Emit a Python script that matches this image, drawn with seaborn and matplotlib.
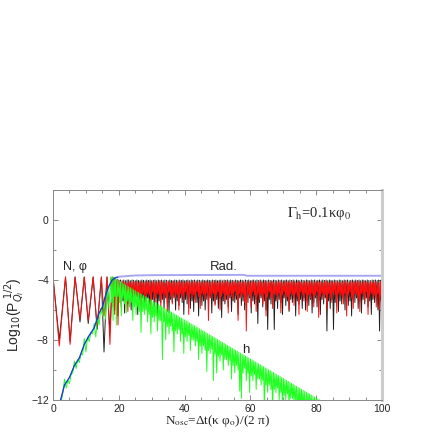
import numpy as np
import pandas as pd
import seaborn as sns
import matplotlib.pyplot as plt

sns.set_style('ticks')
plt.rcParams['font.family'] = ['Liberation Sans', 'DejaVu Sans']

# --- N, phi : first oscillations (peaks and dips) ---
early_x = [0, 1.9, 3.8, 5.2, 6.7, 8.2, 9.5, 10.7, 12.2, 13.4, 14.7, 15.5, 16.4, 17.3]
red_early = [-3.8, -8.4, -3.8, -8.3, -3.8, -6.6, -3.8, -6.7, -3.8, -7.1, -3.8, -6.4, -3.8, -8.3]
black_early = [-3.8, -8.0, -3.8, -8.1, -3.8, -6.8, -3.8, -6.9, -3.8, -7.3, -3.8, -8.8, -3.8, -7.5]

# --- N, phi : dense band, tops at x = 18, 18.5, .. 100 ; troughs a quarter step later ---
red_top = [-3.85, -3.9, -3.95, -4.0, -4.05, -4.1, -4.15, -4.1, -4.15, -4.2,
           -4.1, -4.15, -4.2, -4.1, -4.15, -4.12, -4.2, -4.1, -4.15, -4.18,
           -4.15, -4.1, -4.18, -4.12, -4.2, -4.1, -4.15, -4.12, -4.18, -4.1,
           -4.1, -4.15, -4.2, -4.1, -4.15, -4.12, -4.2, -4.1, -4.15, -4.18,
           -4.15, -4.1, -4.18, -4.12, -4.2, -4.1, -4.15, -4.12, -4.18, -4.1,
           -4.1, -4.15, -4.2, -4.1, -4.15, -4.12, -4.2, -4.1, -4.15, -4.18,
           -4.15, -4.1, -4.18, -4.12, -4.2, -4.1, -4.15, -4.12, -4.18, -4.1,
           -4.1, -4.15, -4.2, -4.1, -4.15, -4.12, -4.2, -4.1, -4.15, -4.18,
           -4.15, -4.1, -4.18, -4.12, -4.2, -4.1, -4.15, -4.12, -4.18, -4.1,
           -4.1, -4.15, -4.2, -4.1, -4.15, -4.12, -4.2, -4.1, -4.15, -4.18,
           -4.15, -4.1, -4.18, -4.12, -4.2, -4.1, -4.15, -4.12, -4.18, -4.1,
           -4.1, -4.15, -4.2, -4.1, -4.15, -4.12, -4.2, -4.1, -4.15, -4.18,
           -4.15, -4.1, -4.18, -4.12, -4.2, -4.1, -4.15, -4.12, -4.18, -4.1,
           -4.1, -4.15, -4.2, -4.1, -4.15, -4.12, -4.2, -4.1, -4.15, -4.18,
           -4.15, -4.1, -4.18, -4.12, -4.2, -4.1, -4.15, -4.12, -4.18, -4.1,
           -4.1, -4.15, -4.2, -4.1, -4.15, -4.12, -4.2, -4.1, -4.15, -4.18,
           -4.1, -4.15, -4.2, -4.1, -4.15]
red_low = [-5.8, -6.3, -5.2, -7.0, -5.0, -5.6, -4.9, -5.4, -5.1, -6.1,
           -4.9, -5.2, -5.0, -5.7, -4.8, -5.3, -5.0, -6.0, -4.9, -5.1,
           -5.4, -4.9, -5.0, -6.2, -4.8, -5.2, -5.5, -4.9, -5.0, -5.8,
           -4.9, -5.3, -5.0, -6.1, -4.8, -5.1, -5.6, -4.9, -5.2, -5.0,
           -6.0, -4.9, -5.1, -5.4, -4.8, -5.0, -6.3, -4.9, -5.2, -5.0,
           -5.5, -4.8, -5.1, -5.9, -4.9, -5.0, -5.3, -4.9, -6.7, -5.0,
           -5.2, -4.9, -5.7, -5.0, -4.8, -6.0, -5.1, -4.9, -5.4, -5.0,
           -6.2, -4.9, -5.1, -5.3, -4.8, -5.0, -6.7, -4.9, -5.2, -5.0,
           -5.5, -7.4, -4.9, -5.1, -5.8, -4.8, -5.0, -6.1, -4.9, -5.3,
           -5.0, -5.6, -4.9, -6.4, -5.1, -4.8, -5.2, -5.9, -4.9, -5.0,
           -5.4, -4.9, -6.2, -5.0, -4.8, -5.3, -5.1, -6.0, -4.9, -5.0,
           -5.7, -4.9, -5.1, -6.3, -4.8, -5.0, -5.4, -4.9, -6.1, -5.0,
           -5.2, -4.9, -5.8, -5.0, -4.8, -6.5, -5.1, -4.9, -5.3, -5.0,
           -6.0, -4.9, -5.2, -5.5, -4.8, -5.0, -6.2, -4.9, -5.1, -5.0,
           -5.6, -4.9, -6.4, -5.0, -4.8, -5.2, -5.9, -4.9, -5.0, -5.3,
           -6.1, -4.9, -5.0, -5.4, -4.8, -6.3, -5.1, -4.9, -5.2, -5.0,
           -5.8, -4.9, -6.0, -5.1, -5.0]
black_top = [-3.8, -3.85, -3.9, -3.95, -4.0, -4.0, -4.05, -4.0, -4.05, -4.0,
             -4.0, -4.05, -4.0, -4.02, -4.05, -4.0, -4.03, -4.05, -4.0, -4.02,
             -4.05, -4.0, -4.03, -4.0, -4.05, -4.02, -4.0, -4.05, -4.0, -4.03,
             -4.0, -4.05, -4.0, -4.02, -4.05, -4.0, -4.03, -4.05, -4.0, -4.02,
             -4.05, -4.0, -4.03, -4.0, -4.05, -4.02, -4.0, -4.05, -4.0, -4.03,
             -4.0, -4.05, -4.0, -4.02, -4.05, -4.0, -4.03, -4.05, -4.0, -4.02,
             -4.05, -4.0, -4.03, -4.0, -4.05, -4.02, -4.0, -4.05, -4.0, -4.03,
             -4.0, -4.05, -4.0, -4.02, -4.05, -4.0, -4.03, -4.05, -4.0, -4.02,
             -4.05, -4.0, -4.03, -4.0, -4.05, -4.02, -4.0, -4.05, -4.0, -4.03,
             -4.0, -4.05, -4.0, -4.02, -4.05, -4.0, -4.03, -4.05, -4.0, -4.02,
             -4.05, -4.0, -4.03, -4.0, -4.05, -4.02, -4.0, -4.05, -4.0, -4.03,
             -4.0, -4.05, -4.0, -4.02, -4.05, -4.0, -4.03, -4.05, -4.0, -4.02,
             -4.05, -4.0, -4.03, -4.0, -4.05, -4.02, -4.0, -4.05, -4.0, -4.03,
             -4.0, -4.05, -4.0, -4.02, -4.05, -4.0, -4.03, -4.05, -4.0, -4.02,
             -4.05, -4.0, -4.03, -4.0, -4.05, -4.02, -4.0, -4.05, -4.0, -4.03,
             -4.0, -4.05, -4.0, -4.02, -4.05, -4.0, -4.03, -4.05, -4.0, -4.02,
             -4.0, -4.05, -4.0, -4.02, -4.05]
black_low = [-5.5, -6.0, -5.3, -6.4, -5.2, -5.8, -5.4, -6.2, -5.3, -5.6,
             -5.2, -6.0, -5.4, -5.5, -5.1, -6.3, -5.3, -5.7, -5.2, -5.9,
             -5.6, -5.2, -6.1, -5.4, -5.3, -5.8, -5.2, -6.4, -5.4, -5.5,
             -5.3, -5.9, -5.2, -5.6, -6.2, -5.3, -5.5, -5.2, -6.0, -5.4,
             -5.7, -5.2, -5.5, -6.3, -5.3, -5.6, -5.2, -5.9, -5.4, -6.1,
             -5.3, -5.5, -6.4, -5.2, -5.7, -5.4, -6.0, -5.3, -5.5, -5.2,
             -6.2, -5.4, -5.6, -5.3, -5.9, -5.2, -6.5, -5.4, -5.6, -5.3,
             -5.8, -5.2, -6.1, -5.4, -5.5, -5.3, -6.3, -5.2, -5.7, -5.4,
             -6.0, -5.3, -5.5, -5.2, -6.2, -5.4, -5.6, -5.3, -6.9, -5.5,
             -5.2, -5.8, -5.4, -6.0, -7.3, -5.3, -5.6, -5.2, -7.3, -5.4,
             -5.9, -5.3, -5.5, -6.3, -5.2, -5.7, -5.4, -6.1, -5.3, -5.5,
             -5.2, -6.4, -5.4, -5.6, -5.3, -5.9, -5.2, -6.0, -5.4, -5.7,
             -5.3, -6.2, -5.5, -5.2, -5.8, -5.4, -6.3, -5.3, -5.6, -5.2,
             -7.4, -5.4, -5.9, -5.3, -7.3, -5.5, -5.2, -6.1, -5.4, -5.6,
             -5.3, -6.0, -5.2, -5.7, -5.4, -6.4, -5.3, -5.5, -5.2, -5.9,
             -5.4, -6.2, -5.3, -5.6, -5.2, -5.8, -5.4, -6.3, -5.3, -5.5,
             -5.2, -6.0, -7.4, -5.4, -5.6]

# --- h : growth phase (x = 2.5 .. 17 every 0.5) ---
green_rise = [-12.1, -11.5, -10.6, -11.2, -10.7, -10.9, -10.3, -10.2, -9.4, -9.9,
              -9.3, -9.5, -8.9, -9.0, -7.9, -8.8, -7.8, -8.1, -7.5, -7.6,
              -6.9, -7.8, -6.5, -7.0, -5.9, -6.4, -5.2, -6.6, -4.6, -5.9]
# --- h : decay, tops at x = 17.5 .. 81.5 ; troughs a quarter step later ---
green_top = [-3.8, -3.8, -3.82, -3.9, -3.98, -4.06, -4.12, -4.19, -4.26, -4.32,
             -4.39, -4.45, -4.52, -4.58, -4.65, -4.71, -4.78, -4.84, -4.91, -4.97,
             -5.04, -5.1, -5.17, -5.23, -5.3, -5.36, -5.43, -5.49, -5.56, -5.62,
             -5.69, -5.75, -5.82, -5.88, -5.95, -6.01, -6.08, -6.14, -6.21, -6.27,
             -6.34, -6.4, -6.47, -6.53, -6.6, -6.66, -6.73, -6.79, -6.86, -6.92,
             -6.99, -7.05, -7.12, -7.18, -7.25, -7.31, -7.38, -7.44, -7.51, -7.57,
             -7.64, -7.7, -7.77, -7.83, -7.9, -7.96, -8.03, -8.09, -8.16, -8.22,
             -8.29, -8.35, -8.42, -8.48, -8.55, -8.61, -8.68, -8.74, -8.81, -8.87,
             -8.94, -9.0, -9.07, -9.13, -9.2, -9.26, -9.33, -9.39, -9.46, -9.52,
             -9.59, -9.65, -9.72, -9.78, -9.85, -9.91, -9.98, -10.04, -10.11, -10.17,
             -10.24, -10.3, -10.37, -10.43, -10.5, -10.56, -10.63, -10.69, -10.76, -10.82,
             -10.89, -10.95, -11.02, -11.08, -11.15, -11.21, -11.28, -11.34, -11.41, -11.47,
             -11.54, -11.6, -11.67, -11.73, -11.8, -11.86, -11.93, -11.99, -12.06]
green_low = [-5.5, -6.7, -5.1, -7.0, -5.1, -5.5, -6.4, -5.2, -5.6, -6.2,
             -5.4, -5.8, -5.5, -6.7, -5.8, -6.3, -5.8, -6.1, -7.5, -6.1,
             -6.3, -6.0, -6.8, -6.3, -7.6, -6.5, -6.8, -6.4, -7.4, -6.7,
             -6.7, -9.3, -6.8, -8.0, -7.1, -7.6, -7.1, -7.4, -8.8, -7.4,
             -7.6, -7.3, -8.1, -7.6, -8.9, -7.8, -8.1, -7.7, -8.7, -8.0,
             -8.0, -8.4, -8.1, -9.3, -8.4, -8.9, -8.4, -8.7, -10.1, -8.7,
             -8.9, -8.6, -10.7, -8.9, -10.2, -9.1, -9.4, -9.0, -10.0, -9.3,
             -9.3, -9.7, -9.4, -10.6, -9.7, -10.2, -9.7, -10.0, -11.4, -11.9,
             -10.2, -9.9, -10.7, -10.2, -11.5, -10.4, -10.7, -10.3, -11.3, -10.6,
             -10.6, -11.0, -10.7, -12.7, -11.0, -11.5, -11.0, -11.3, -12.7, -11.3,
             -11.5, -11.2, -12.0, -11.5, -12.8, -11.7, -12.0, -11.6, -12.6, -11.9,
             -11.9, -12.3, -12.0, -13.2, -12.3, -12.8, -12.3, -12.6, -14.0, -12.6,
             -12.8, -12.5, -13.3, -12.8, -14.1, -13.0, -13.3, -12.9, -13.9]

# --- Rad. ---
rad_x = [2.3, 3.5, 5, 6.5, 8, 9.5, 11, 12.5, 14, 15, 16, 17, 18, 19, 20]
rad_y = [-12, -11.0, -10.5, -9.7, -9.2, -8.3, -7.7, -7.2, -6.2, -5.8, -5.0, -4.4, -4.0, -3.85, -3.78]
rad2_x = [20, 25, 30, 40, 58, 59, 100]
rad2_y = [-3.78, -3.7, -3.68, -3.67, -3.66, -3.72, -3.72]


def zigzag(x0, tops, lows):
    # tops every 0.5, each followed by its trough 0.25 later
    y = np.ravel(np.column_stack([tops, lows]))
    x = x0 + 0.25 * np.arange(len(y))
    return x, y


bx, red_band = zigzag(18, red_top, red_low)
_, black_band = zigzag(18, black_top, black_low)
gx, green_band = zigzag(17.5, green_top, green_low)
rise_x = np.arange(2.5, 17.25, 0.5)

black = pd.DataFrame({'x': np.r_[early_x, bx], 'y': np.r_[black_early, black_band]})
red = pd.DataFrame({'x': np.r_[early_x, bx], 'y': np.r_[red_early, red_band]})
green = pd.DataFrame({'x': np.r_[rise_x, gx], 'y': np.r_[green_rise, green_band]})

fig = plt.figure(figsize=(4.36, 4.36), dpi=100)
ax = fig.add_axes([0.1216, 0.0826, 0.7546, 0.4817])

kw = dict(estimator=None, sort=False, ax=ax)
sns.lineplot(data=black, x='x', y='y', color='#222222', lw=0.7, **kw)
sns.lineplot(data=red, x='x', y='y', color='#ff1010', lw=0.7, **kw)
sns.lineplot(data=green, x='x', y='y', color='#22ff22', lw=0.7, **kw)
sns.lineplot(x=rad_x, y=rad_y, color='#1a3ad0', lw=1.0, **kw)
sns.lineplot(x=rad2_x, y=rad2_y, color='#a8a8f2', lw=1.4, **kw)

ax.set_xlim(0, 100)
ax.set_ylim(-12, 2)
ax.set_xticks([0, 20, 40, 60, 80, 100])
ax.set_xticks(np.arange(0, 101, 5), minor=True)
ax.set_yticks([-12, -8, -4, 0])
ax.set_yticks(np.arange(-12, 3, 2), minor=True)
ax.set_yticklabels(['\u221212', '\u22128', '\u22124', '0'])
ax.tick_params(which='both', direction='in', top=True, right=True,
               labelsize=7.5, color='#777777', width=0.6, pad=3)
ax.tick_params(which='major', length=3.5)
ax.tick_params(which='minor', length=2)
for s in ['left', 'top', 'bottom']:
    ax.spines[s].set_color('#888888')
    ax.spines[s].set_linewidth(0.7)
ax.spines['right'].set_color('#cccccc')
ax.spines['right'].set_linewidth(2.2)

ax.set_xlabel(r'N$_{\rm osc}$=Δt(κ φ$_{\rm o}$)/(2 π)', family='Liberation Serif',
              math_fontfamily='stix', fontsize=9.5, labelpad=-1)
ax.set_ylabel(r'Log$_{10}$(P$_{Q_i}^{\ 1/2}$)', fontsize=10,
              math_fontfamily='dejavusans')
ax.yaxis.set_label_coords(-0.08, 0.405)

ax.text(71, 0.45, r'$\Gamma_{\rm h}$=0.1κφ$_{\rm 0}$', family='Liberation Serif',
        math_fontfamily='stix', fontsize=10.5, va='center', ha='left')
ax.text(6.7, -3.15, 'N, φ', fontsize=9, ha='center', va='center')
ax.text(52, -3.15, 'Rad.', fontsize=9.5, ha='center', va='center')
ax.text(58.5, -8.7, 'h', fontsize=9.5, ha='center', va='center')

fig.savefig('out.png', dpi=100)
